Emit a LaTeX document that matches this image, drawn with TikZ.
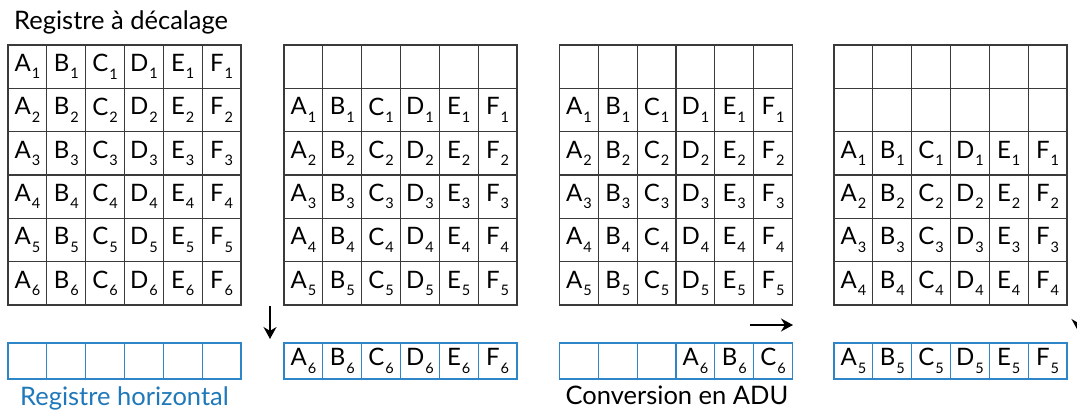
\documentclass[tikz,border=0pt]{standalone}
\usepackage{fontspec}
\setmainfont{Lato}
\usetikzlibrary{positioning,arrows.meta}

\definecolor{gridgray}{HTML}{3A3A3A}
\definecolor{regblue}{HTML}{2E86C8}
\definecolor{txtblue}{HTML}{1F78B9}

% letter with lowered index, as in the register cells
\newcommand{\pix}[2]{#1\kern1pt\raisebox{-0.6ex}{\fontsize{14.5}{14.5}\selectfont #2}}
\newcommand{\letterof}[1]{\ifcase#1\or A\or B\or C\or D\or E\or F\fi}

\begin{document}
\begin{tikzpicture}[x=1pt, y=-1pt,
    cell/.style={draw=gridgray, line width=1.2pt, minimum width=38.83pt, minimum height=43.33pt,
                 inner sep=0pt, font=\fontsize{24}{24}\selectfont},
    hcell/.style={cell, draw=regblue, minimum height=36pt},
    note/.style={inner sep=0pt, font=\fontsize{25.5}{25.5}\selectfont},
    move/.style={line width=1.3pt, -{Stealth[length=12pt, width=13pt]}}]
    \useasboundingbox (0,0) rectangle (1077,412);

    % the four states of the CCD
    \foreach \p/\x/\off in {1/8/0, 2/284/1, 3/559.5/1, 4/834/2}{
        \foreach \r in {1,...,6}{
            \foreach \c/\L in {1/A,2/B,3/C,4/D,5/E,6/F}{
                \pgfmathtruncatemacro\k{\r-\off}
                \ifnum\k>0
                    \node[cell] (g\p-\r-\c) at ({\x+(\c-0.5)*38.83},{45+(\r-0.5)*43.33}) {\pix{\L}{\k}};
                \else
                    \node[cell] (g\p-\r-\c) at ({\x+(\c-0.5)*38.83},{45+(\r-0.5)*43.33}) {};
                \fi
            }
        }
    }

    % horizontal register below each state
    \foreach \p/\x/\k/\first in {1/8/0/7, 2/284/6/1, 3/559.5/6/4, 4/834/5/1}{
        \foreach \c in {1,...,6}{
            \pgfmathtruncatemacro\i{\c-\first+1}
            \ifnum\i>0
                \node[hcell] (h\p-\c) at ({\x+(\c-0.5)*38.83},361) {\pix{\letterof{\i}}{\k}};
            \else
                \node[hcell] (h\p-\c) at ({\x+(\c-0.5)*38.83},361) {};
            \fi
        }
    }

    % shifts
    \coordinate (d1) at (270,306);
    \coordinate (d2) at (270,339);
    \draw[move] (d1) -- (d2);
    \coordinate (r1) at (750,325);
    \coordinate (r2) at (793,325);
    \draw[move] (r1) -- (r2);
    \coordinate (e1) at (1078,298);
    \coordinate (e2) at (1078,331);
    \draw[move] (e1) -- (e2);

    \node[note, anchor=west] (title) at (14,22) {Registre à décalage};
    \node[note, text=txtblue] (hlab) at (124.5,398) {Registre horizontal};
    \node[note] (adu) at (677,395) {Conversion en ADU};
\end{tikzpicture}
\end{document}
